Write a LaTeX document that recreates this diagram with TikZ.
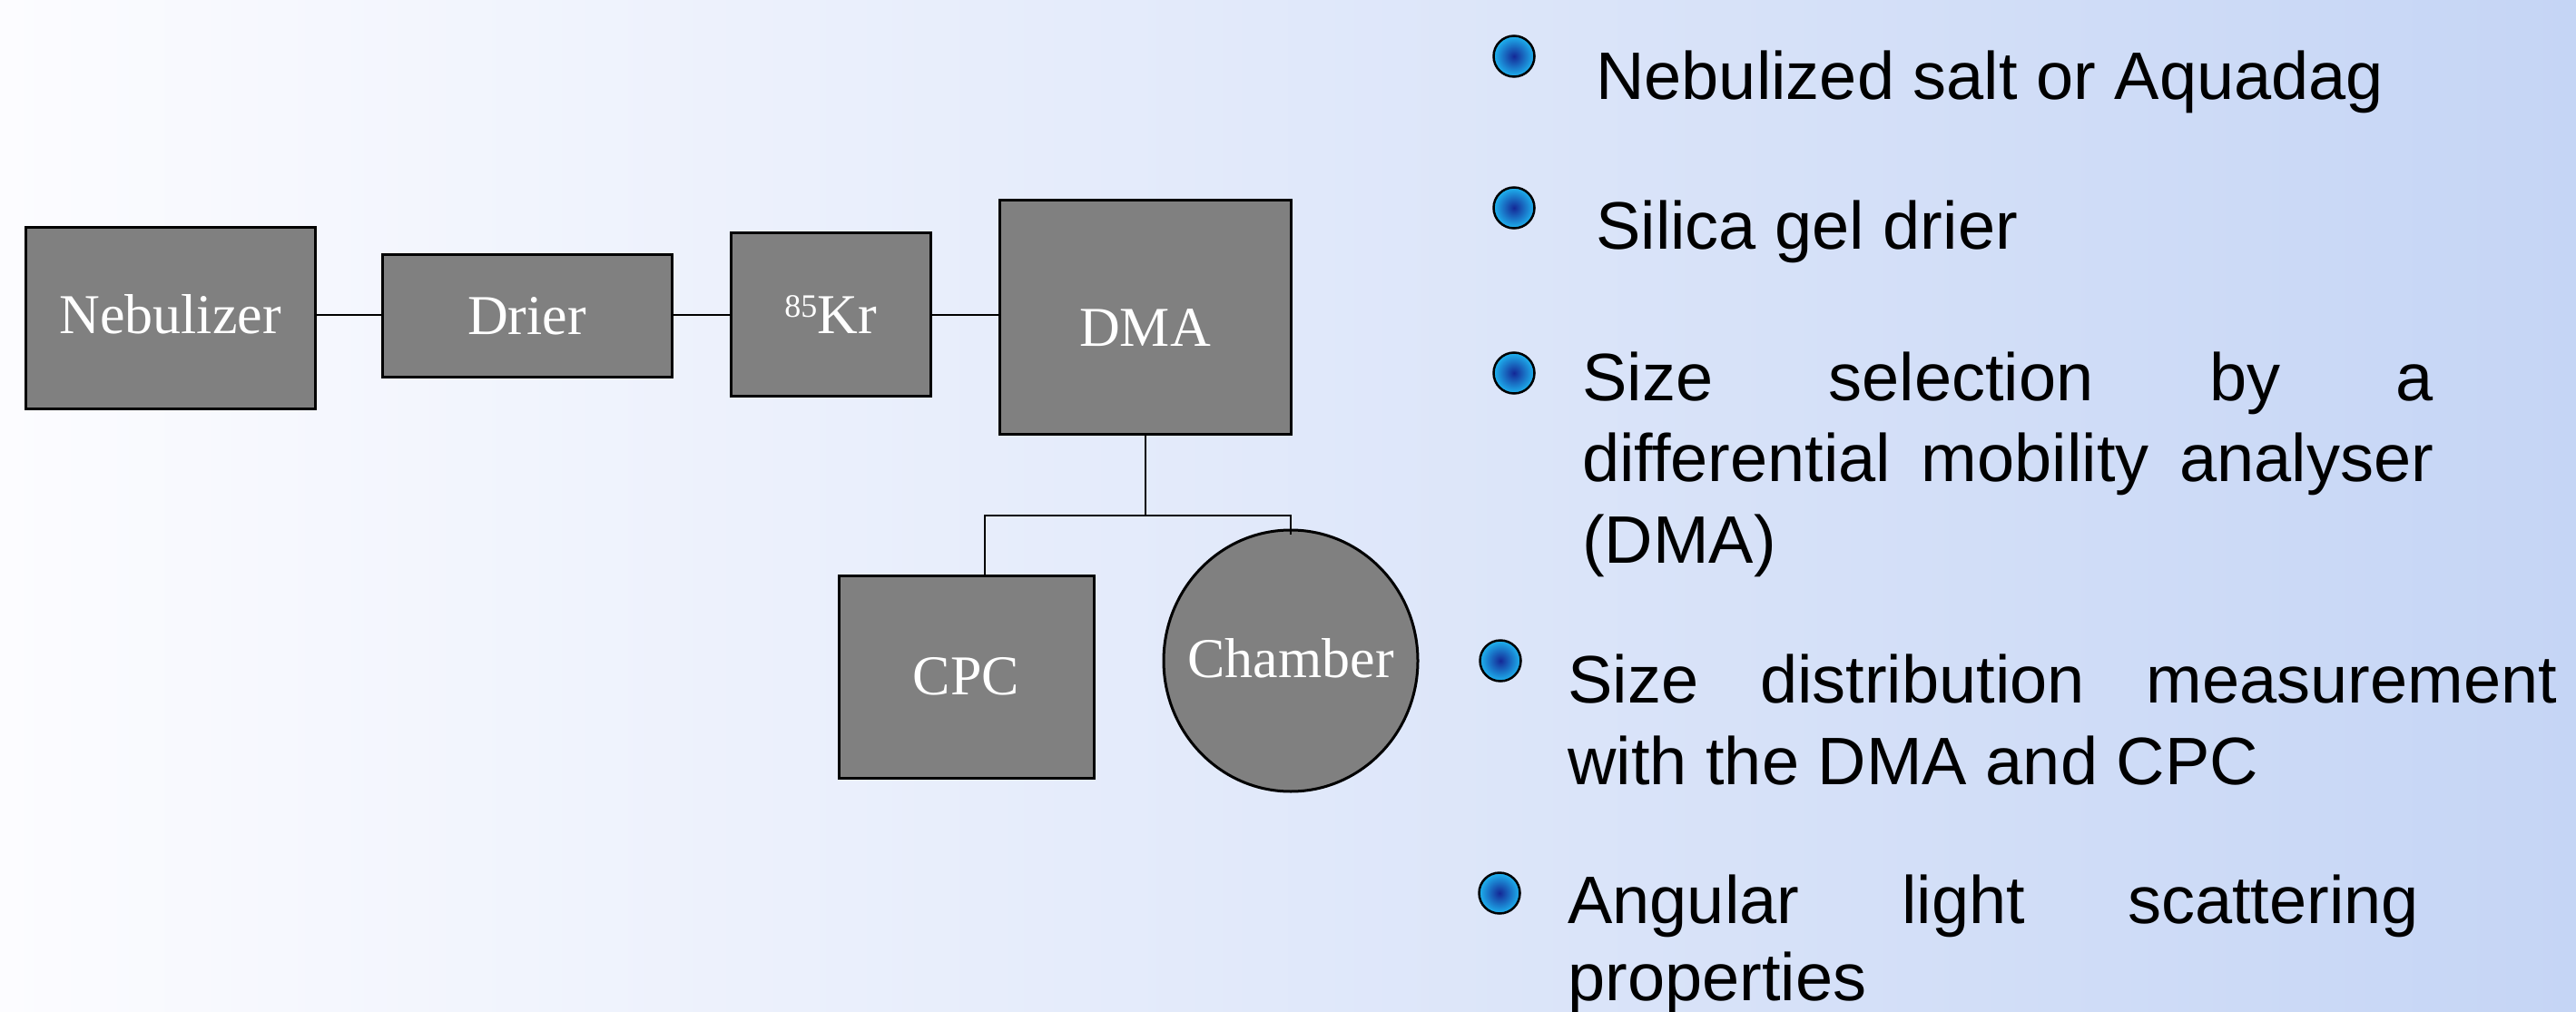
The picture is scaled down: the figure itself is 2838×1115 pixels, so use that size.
\documentclass[tikz,border=0pt]{standalone}
\usepackage{fontspec}
\setmainfont{Liberation Serif}
\newfontfamily\bulletfont{Liberation Sans}
\usetikzlibrary{shapes.geometric}
\definecolor{boxgray}{RGB}{128,128,128}
\definecolor{bulin}{RGB}{20,40,150}
\definecolor{bulout}{RGB}{30,180,240}
\definecolor{bgl}{RGB}{252,252,255}
\definecolor{bgr}{RGB}{197,213,245}
\begin{document}
\begin{tikzpicture}[x=1pt,y=-1pt,
  box/.style={draw=black, line width=3pt, fill=boxgray, text=white, inner sep=0pt, font=\fontsize{62}{70}\selectfont},
  wire/.style={draw=black, line width=2pt},
  bul/.style={circle, draw=black, line width=2.5pt, minimum size=45pt, inner sep=0pt, inner color=bulin, outer color=bulout},
  btxt/.style={anchor=base west, inner sep=0pt, font=\bulletfont\fontsize{74}{90}\selectfont}]
\useasboundingbox (0,0) rectangle (2838,1115);
\shade[left color=bgl, right color=bgr] (0,0) rectangle (2838,1115);

% boxes
\node[box, minimum width=319pt, minimum height=199pt] (neb) at (187.5,350.5) {\raisebox{4pt}[\height][\depth]{Nebulizer}};
\node[box, minimum width=319pt, minimum height=134pt] (drier) at (580.5,348) {Drier};
\node[box, minimum width=220pt, minimum height=179pt] (kr) at (915,346.5) {\raisebox{18pt}{\fontsize{36}{40}\selectfont 85}Kr};
\node[box, minimum width=321pt, minimum height=257pt] (dma) at (1261.5,349.5) {\raisebox{-12pt}[\height][\depth]{DMA}};
\node[box, minimum width=281pt, minimum height=223pt] (cpc) at (1064.5,745.5) {CPC};
\node[box, ellipse, minimum width=280pt, minimum height=288pt] (chamber) at (1422,728) {\makebox[0pt]{\raisebox{3pt}[\height][\depth]{Chamber}}};

% connectors
\coordinate (hl) at (0,568);
\draw[wire] (neb.east |- kr.center) -- (drier.west |- kr.center);
\draw[wire] (drier.east |- kr.center) -- (kr.west);
\draw[wire] (kr.east) -- (dma.west |- kr.center);
\draw[wire] (dma.south) -- (dma.south |- hl) -| ([xshift=20pt]cpc.north);
\draw[wire] (dma.south |- hl) -| ([yshift=-6pt]chamber.north);

% bullets
\node[bul] (b1) at (1668,62) {};
\node[btxt] (t1) at (1758,110) {Nebulized salt or Aquadag};
\node[bul] (b2) at (1668,229) {};
\node[btxt] (t2) at (1758,275) {Silica gel drier};
\node[bul] (b3) at (1668,411) {};
\node[btxt] (t3a) at (1743,441) {\makebox[938pt][s]{Size selection by a}};
\node[btxt] (t3b) at (1743,530) {\makebox[938pt][s]{differential mobility analyser}};
\node[btxt] (t3c) at (1743,620) {(DMA)};
\node[bul] (b4) at (1653,728) {};
\node[btxt] (t4a) at (1727,774) {\makebox[1090pt][s]{Size distribution measurement}};
\node[btxt] (t4b) at (1727,864) {with the DMA and CPC};
\node[bul] (b5) at (1652,984) {};
\node[btxt] (t5a) at (1727,1017) {\makebox[938pt][s]{Angular light scattering}};
\node[btxt] (t5b) at (1727,1102) {properties};
\end{tikzpicture}
\end{document}
